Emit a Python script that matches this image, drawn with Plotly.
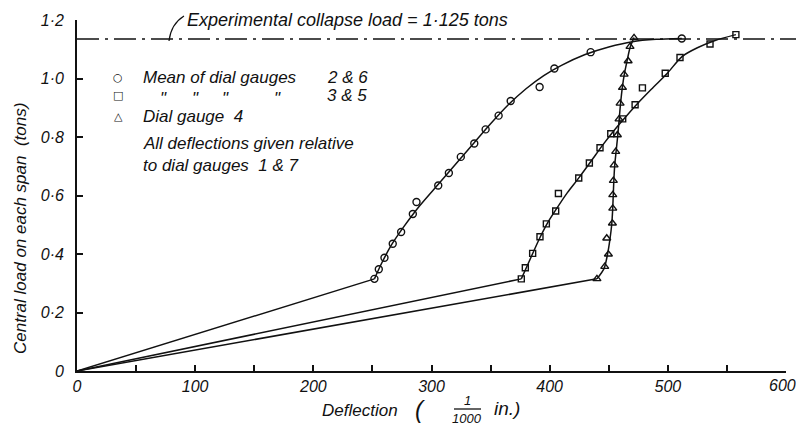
import plotly.graph_objects as go

# ---------------- data ----------------
# Mean of dial gauges 2 & 6 (circles)
g26_x = [251.7, 255.4, 260.2, 267.2, 274.3, 284.2, 287.3, 305.7, 314.7, 324.8,
         336.2, 345.8, 356.8, 367.0, 391.5, 404.0, 434.7, 511.8]
g26_y = [0.315, 0.348, 0.387, 0.435, 0.475, 0.537, 0.578, 0.634, 0.677, 0.732,
         0.778, 0.826, 0.873, 0.923, 0.971, 1.034, 1.090, 1.137]
# Mean of dial gauges 3 & 5 (squares)
g35_x = [376.0, 379.4, 385.6, 391.8, 397.2, 405.1, 407.4, 424.6, 433.6, 442.6,
         451.7, 461.8, 472.3, 478.5, 497.8, 510.3, 535.7, 557.6]
g35_y = [0.315, 0.353, 0.402, 0.459, 0.503, 0.547, 0.607, 0.660, 0.711, 0.763,
         0.811, 0.862, 0.910, 0.968, 1.018, 1.072, 1.118, 1.150]
# Dial gauge 4 (triangles)
g4_x = [440.0, 446.6, 449.7, 448.3, 453.1, 453.4, 453.4, 453.9, 454.5, 455.9,
        457.3, 458.7, 459.6, 461.6, 463.0, 466.4, 468.0, 471.4]
g4_y = [0.315, 0.357, 0.399, 0.454, 0.505, 0.556, 0.602, 0.651, 0.704, 0.750,
        0.807, 0.861, 0.915, 0.969, 1.014, 1.060, 1.109, 1.139]

# faired curves drawn through the points
fit26_x = [251.7, 258, 266, 276, 290, 305, 320, 335, 350, 365, 380, 395, 410,
           430, 450, 470, 490, 511.8]
fit26_y = [0.315, 0.37, 0.43, 0.49, 0.565, 0.635, 0.705, 0.775, 0.845, 0.91,
           0.965, 1.01, 1.045, 1.082, 1.108, 1.126, 1.134, 1.137]
fit35_x = [376.0, 381, 386, 392, 398, 405, 415, 425, 435, 445, 455, 465, 475,
           487, 500, 512, 525, 540, 557.6]
fit35_y = [0.315, 0.36, 0.405, 0.458, 0.505, 0.55, 0.61, 0.662, 0.717, 0.773,
           0.825, 0.872, 0.917, 0.967, 1.02, 1.075, 1.105, 1.13, 1.15]
fit4_x = [440.0, 446, 449, 451, 452.5, 453.3, 453.8, 454.3, 455, 456.2, 457.5,
          458.8, 460, 461.5, 463.2, 465.5, 468, 471.4]
fit4_y = [0.315, 0.35, 0.40, 0.45, 0.50, 0.55, 0.60, 0.65, 0.70, 0.75, 0.80,
          0.86, 0.915, 0.97, 1.015, 1.06, 1.105, 1.14]
origin_x = 0
origin_y = 0

collapse_load_line = 1.135

x_tick_vals = [0, 50, 100, 150, 200, 250, 300, 350, 400, 450, 500, 550, 600]
x_tick_text = ["0", "", "100", "", "200", "", "300", "", "400", "", "500", "", ""]
x_last_label = "600"   # drawn as a separate label, nudged left like the original
y_tick_vals = [0, 0.2, 0.4, 0.6, 0.8, 1.0, 1.2]
y_tick_text = ["0", "0·2", "0·4", "0·6", "0·8", "1·0", "1·2"]

key_symbols = ["○", "□", "△"]
key_labels = ["Mean of dial gauges", "", "Dial gauge\u00a0\u00a04"]
key_gauges = ["2 & 6", "3 & 5", ""]
ditto_mark = "\""
note_lines = ["All deflections given relative", "to dial gauges\u00a0\u00a01 & 7"]

FONT = "Liberation Sans"
INK = "#111111"

fig = go.Figure()

for fx, fy in [(fit26_x, fit26_y), (fit35_x, fit35_y), (fit4_x, fit4_y)]:
    fig.add_trace(go.Scatter(x=[origin_x, fx[0]], y=[origin_y, fy[0]], mode="lines",
                             line=dict(color=INK, width=1.5), showlegend=False,
                             hoverinfo="skip"))
    fig.add_trace(go.Scatter(x=fx, y=fy, mode="lines",
                             line=dict(color=INK, width=1.5, shape="spline", smoothing=0.8),
                             showlegend=False, hoverinfo="skip"))

for xs, ys, sym, size in [(g26_x, g26_y, "circle-open", 7),
                          (g35_x, g35_y, "square-open", 6),
                          (g4_x, g4_y, "triangle-up-open", 7)]:
    fig.add_trace(go.Scatter(x=xs, y=ys, mode="markers", showlegend=False,
                             marker=dict(symbol=sym, size=size, color=INK,
                                         line=dict(width=1.4, color=INK)),
                             cliponaxis=False))

def px_x(px):
    return (px - 77) / 709.0

def px_y(py):
    return (371 - py) / 351.0

def font(size=17):
    return dict(family=FONT, size=size, color=INK, style="italic")

def txt(text, x, y, xanchor="left", size=17, **kw):
    return dict(text=text, xref="paper", yref="paper", x=px_x(x), y=px_y(y),
                xanchor=xanchor, yanchor="middle", showarrow=False, font=font(size), **kw)

annotations = [
    txt("Experimental collapse load = 1·125 tons", 185, 20, size=18),
    txt("Central load on each span\u00a0\u00a0(tons)", 20, 229, xanchor="center", textangle=-90),
    txt("Deflection", 320, 410),
    txt("(", 420, 409, xanchor="center", size=24),
    txt("1", 467, 400, xanchor="center", size=13),
    txt("1000", 467, 418, xanchor="center", size=13),
    txt("in.)", 492, 408, size=19),
    txt(x_last_label, 782, 385, xanchor="center", size=16),
]

key_rows_y = [77, 96, 116]
for i in range(3):
    annotations.append(dict(text=key_symbols[i], xref="paper", yref="paper",
                            x=px_x(118), y=px_y(key_rows_y[i]), xanchor="center",
                            yanchor="middle", showarrow=False,
                            font=dict(family="DejaVu Sans", size=11, color=INK)))
    if key_labels[i]:
        annotations.append(txt(key_labels[i], 141, key_rows_y[i]))
    if key_gauges[i]:
        annotations.append(txt(key_gauges[i], 325, key_rows_y[i]))
for dx in [163, 195, 225, 277]:
    annotations.append(txt(ditto_mark, dx, key_rows_y[1] + 2, xanchor="center"))
annotations.append(txt(note_lines[0], 141, 143))
annotations.append(txt(note_lines[1], 141, 165))

shapes = [
    dict(type="line", xref="paper", yref="paper", x0=0, x1=px_x(797),
         y0=collapse_load_line / 1.2, y1=collapse_load_line / 1.2,
         line=dict(color=INK, width=1.3, dash="22px,6px,3px,6px")),
    dict(type="path", xref="paper", yref="paper",
         path=f"M {px_x(184)},{px_y(16)} Q {px_x(171)},{px_y(24)} {px_x(169)},{px_y(41)}",
         line=dict(color=INK, width=1.2)),
    dict(type="line", xref="paper", yref="paper", x0=px_x(454), x1=px_x(481),
         y0=px_y(409), y1=px_y(409), line=dict(color=INK, width=1.3)),
]

fig.update_layout(
    width=796, height=425,
    margin=dict(l=77, r=10, t=20, b=54, pad=0),
    paper_bgcolor="white", plot_bgcolor="white",
    annotations=annotations, shapes=shapes,
    showlegend=False,
    xaxis=dict(range=[0, 600], showgrid=False, zeroline=False, showline=True,
               linecolor=INK, linewidth=1.8, ticks="inside", ticklen=6, tickwidth=1.5,
               tickcolor=INK, tickvals=x_tick_vals, ticktext=x_tick_text,
               tickfont=font(16)),
    yaxis=dict(range=[0, 1.2], showgrid=False, zeroline=False, showline=True,
               linecolor=INK, linewidth=1.8, ticks="inside", ticklen=6, tickwidth=1.5,
               tickcolor=INK, tickvals=y_tick_vals, ticktext=y_tick_text,
               ticklabelstandoff=8, tickfont=font(16)),
)

# remove the page's default 8px body margin so the 796x425 figure fills the window
fig.write_html("out.html",
               config={"displayModeBar": False},
               post_script="document.body.style.margin='0';"
                           "document.body.style.overflow='hidden';")
